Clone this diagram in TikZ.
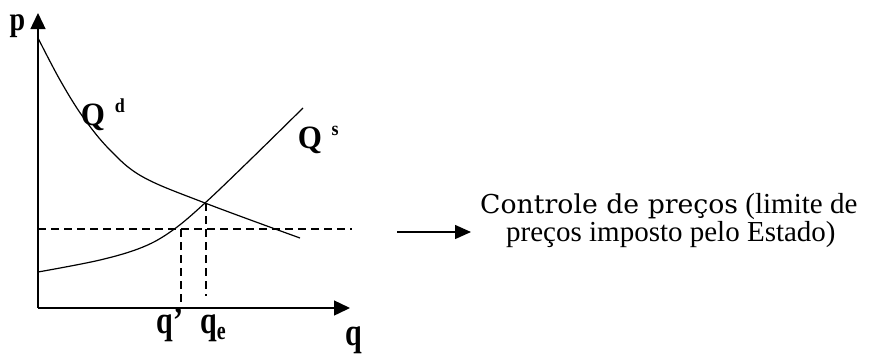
\documentclass[tikz,border=0pt]{standalone}
\usepackage{fontspec}
\usepackage{graphicx}
\setmainfont{Liberation Serif}
\newfontfamily\wideserif{DejaVu Serif}
\usetikzlibrary{arrows.meta}
\newcommand\tallbox[2]{\scalebox{1}[#1]{#2}}
\begin{document}
\begin{tikzpicture}[x=1pt,y=-1pt,
  axis/.style={line width=1.4pt,-{Triangle[length=16pt,width=15pt]}},
  curve/.style={line width=1.2pt},
  guide/.style={line width=1.1pt,dash pattern=on 8pt off 5pt},
  lbl/.style={font=\bfseries\fontsize{30}{32}\selectfont,inner sep=0pt,anchor=base},
  plbl/.style={font=\bfseries\fontsize{28}{30}\selectfont,inner sep=0pt,anchor=base},
  biglbl/.style={font=\bfseries\fontsize{31}{33}\selectfont,inner sep=0pt,anchor=base},
  suplbl/.style={font=\bfseries\fontsize{18}{20}\selectfont,inner sep=0pt,anchor=base},
  body/.style={font=\fontsize{29}{32}\selectfont,inner sep=0pt,anchor=base west}]
\useasboundingbox (0,0) rectangle (874,354);
% axes
\coordinate (O) at (38,308);
\coordinate (ytop) at (38,13);
\coordinate (xend) at (350,308);
\draw[axis] (O) -- (ytop);
\draw[axis] (O) -- (xend);
% curves
\draw[curve] plot[smooth,tension=0.6] coordinates {(38,38) (60,80) (83,117) (110,150) (143,177) (205,203) (300,238)};
\draw[curve] plot[smooth,tension=0.6] coordinates {(38,272) (100,260) (143,247) (173,230) (205,203) (250,160) (303,108)};
% guides
\coordinate (hs) at (38,229);
\coordinate (he) at (352,229);
\coordinate (q1t) at (181,229);
\coordinate (q1b) at (181,302);
\coordinate (qet) at (206,203);
\coordinate (qeb) at (206,296);
\draw[guide] (hs) -- (he);
\draw[guide] (q1t) -- (q1b);
\draw[guide] (qet) -- (qeb);
% labels
\node[plbl] (p) at (17.5,30) {\tallbox{1.2}{p}};
\node[biglbl] (Qd) at (93,125) {\tallbox{1.05}{Q}};
\node[suplbl] (d) at (120,112) {\tallbox{1.1}{d}};
\node[biglbl] (Qs) at (310,148) {\tallbox{1.05}{Q}};
\node[suplbl] (s) at (335,135) {\tallbox{1.1}{s}};
\node[lbl] (q1) at (170,333) {\tallbox{1.3}{q’}};
\node[lbl] (qe) at (213,333) {\tallbox{1.3}{q}\raisebox{-6pt}{\fontsize{20}{22}\selectfont\tallbox{1.3}{e}}};
\node[lbl] (q) at (354,345) {\tallbox{1.3}{q}};
% text
\node[body] (l1) at (480,213) {\resizebox{258pt}{\height}{\wideserif\fontsize{26}{28}\selectfont Controle de preços} (limite de};
\node[body] (l2) at (506,241) {preços imposto pelo Estado)};
\coordinate (as) at (397,232);
\coordinate (ae) at (471,232);
\draw[line width=1.4pt,-{Triangle[length=16pt,width=14pt]}] (as) -- (ae);
\end{tikzpicture}
\end{document}
